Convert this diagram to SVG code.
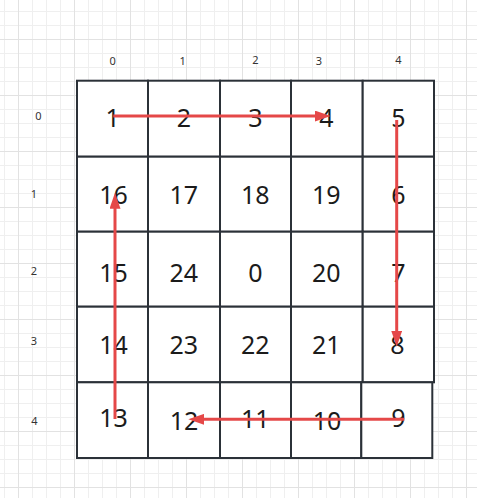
<svg xmlns="http://www.w3.org/2000/svg" width="477" height="498" viewBox="0 0 477 498">
  <defs>
    <pattern id="grid" patternUnits="userSpaceOnUse" x="18" y="39" width="56" height="56">
      <rect x="14" y="0" width="1" height="56" fill="#efefef"/>
      <rect x="28" y="0" width="1" height="56" fill="#efefef"/>
      <rect x="42" y="0" width="1" height="56" fill="#efefef"/>
      <rect x="0" y="14" width="56" height="1" fill="#efefef"/>
      <rect x="0" y="28" width="56" height="1" fill="#efefef"/>
      <rect x="0" y="42" width="56" height="1" fill="#efefef"/>
      <rect x="0" y="0" width="1" height="56" fill="#e2e2e2"/>
      <rect x="0" y="0" width="56" height="1" fill="#e2e2e2"/>
    </pattern>
    <marker id="arrow" markerUnits="userSpaceOnUse" markerWidth="16" markerHeight="11" refX="8" refY="5.5" orient="auto">
      <path d="M0,0 L16,5.5 L0,11 Z" fill="#e54848"/>
    </marker>
  </defs>
  <style>
    .cell { fill: #ffffff; stroke: #2b3138; stroke-width: 2; }
    .num { font-family: "Noto Sans", "Open Sans", sans-serif; font-size: 25px; fill: #1b1b1b; text-anchor: middle; }
    .axis { font-family: "Noto Sans", "Open Sans", sans-serif; font-size: 11px; fill: #333333; text-anchor: middle; }
    .conn { fill: none; stroke: #e54848; stroke-width: 3; marker-end: url(#arrow); }
  </style>
  <rect x="0" y="0" width="477" height="498" fill="#ffffff"/>
  <rect x="0" y="0" width="477" height="498" fill="url(#grid)"/>

  <g id="axis-labels">
    <text class="axis" x="112.7" y="65">0</text>
    <text class="axis" x="182.7" y="64.5">1</text>
    <text class="axis" x="255.3" y="64">2</text>
    <text class="axis" x="319" y="65">3</text>
    <text class="axis" x="398.3" y="64">4</text>
    <text class="axis" x="38.3" y="120">0</text>
    <text class="axis" x="34" y="198">1</text>
    <text class="axis" x="34" y="275">2</text>
    <text class="axis" x="34" y="345">3</text>
    <text class="axis" x="34.3" y="424.5">4</text>
  </g>

  <!-- row 0 -->
  <g id="cell-0-0"><rect class="cell" x="77" y="80.7" width="71" height="76"/><text class="num" x="112.7" y="127">1</text></g>
  <g id="cell-0-1"><rect class="cell" x="148" y="80.7" width="72" height="76"/><text class="num" x="183.8" y="127">2</text></g>
  <g id="cell-0-2"><rect class="cell" x="220" y="80.7" width="71" height="76"/><text class="num" x="255.3" y="127">3</text></g>
  <g id="cell-0-3"><rect class="cell" x="291" y="80.7" width="71.7" height="76"/><text class="num" x="326.5" y="127">4</text></g>
  <g id="cell-0-4"><rect class="cell" x="362.7" y="80.7" width="71.3" height="76"/><text class="num" x="398.3" y="127">5</text></g>
  <!-- row 1 -->
  <g id="cell-1-0"><rect class="cell" x="77" y="156.7" width="71" height="75"/><text class="num" x="113.5" y="204.3">16</text></g>
  <g id="cell-1-1"><rect class="cell" x="148" y="156.7" width="72" height="75"/><text class="num" x="183.8" y="204.3">17</text></g>
  <g id="cell-1-2"><rect class="cell" x="220" y="156.7" width="71" height="75"/><text class="num" x="255.3" y="204.3">18</text></g>
  <g id="cell-1-3"><rect class="cell" x="291" y="156.7" width="71.7" height="75"/><text class="num" x="326.3" y="204.3">19</text></g>
  <g id="cell-1-4"><rect class="cell" x="362.7" y="156.7" width="71.3" height="75"/><text class="num" x="398.5" y="204.3">6</text></g>
  <!-- row 2 -->
  <g id="cell-2-0"><rect class="cell" x="77" y="231.7" width="71" height="75"/><text class="num" x="113.5" y="282.3">15</text></g>
  <g id="cell-2-1"><rect class="cell" x="148" y="231.7" width="72" height="75"/><text class="num" x="183.8" y="282.3">24</text></g>
  <g id="cell-2-2"><rect class="cell" x="220" y="231.7" width="71" height="75"/><text class="num" x="255.3" y="282.3">0</text></g>
  <g id="cell-2-3"><rect class="cell" x="291" y="231.7" width="71.7" height="75"/><text class="num" x="326.3" y="282.3">20</text></g>
  <g id="cell-2-4"><rect class="cell" x="362.7" y="231.7" width="71.3" height="75"/><text class="num" x="398.3" y="282.3">7</text></g>
  <!-- row 3 -->
  <g id="cell-3-0"><rect class="cell" x="77" y="306.7" width="71" height="75.6"/><text class="num" x="113.5" y="354.3">14</text></g>
  <g id="cell-3-1"><rect class="cell" x="148" y="306.7" width="72" height="75.6"/><text class="num" x="183.8" y="354.3">23</text></g>
  <g id="cell-3-2"><rect class="cell" x="220" y="306.7" width="71" height="75.6"/><text class="num" x="255.3" y="354.3">22</text></g>
  <g id="cell-3-3"><rect class="cell" x="291" y="306.7" width="71.7" height="75.6"/><text class="num" x="326.3" y="354.3">21</text></g>
  <g id="cell-3-4"><rect class="cell" x="362.7" y="306.7" width="71.3" height="75.6"/><text class="num" x="397.5" y="354.3">8</text></g>
  <!-- row 4 -->
  <g id="cell-4-0"><rect class="cell" x="77" y="382.3" width="71" height="75.7"/><text class="num" x="113.5" y="427">13</text></g>
  <g id="cell-4-1"><rect class="cell" x="148" y="382.3" width="72" height="75.7"/><text class="num" x="184" y="430">12</text></g>
  <g id="cell-4-2"><rect class="cell" x="220" y="382.3" width="71" height="75.7"/><text class="num" x="255.3" y="427.5">11</text></g>
  <g id="cell-4-3"><rect class="cell" x="291" y="382.3" width="70.3" height="75.7"/><text class="num" x="327" y="430">10</text></g>
  <g id="cell-4-4"><rect class="cell" x="361.3" y="382.3" width="71" height="75.7"/><text class="num" x="398.3" y="427">9</text></g>

  <g id="connectors">
    <path class="conn" d="M113.3,116 H322.7"/>
    <path class="conn" d="M396.7,120 V338.7"/>
    <path class="conn" d="M404.3,419.3 H196.3"/>
    <path class="conn" d="M115,419 V200.7"/>
  </g>
</svg>
